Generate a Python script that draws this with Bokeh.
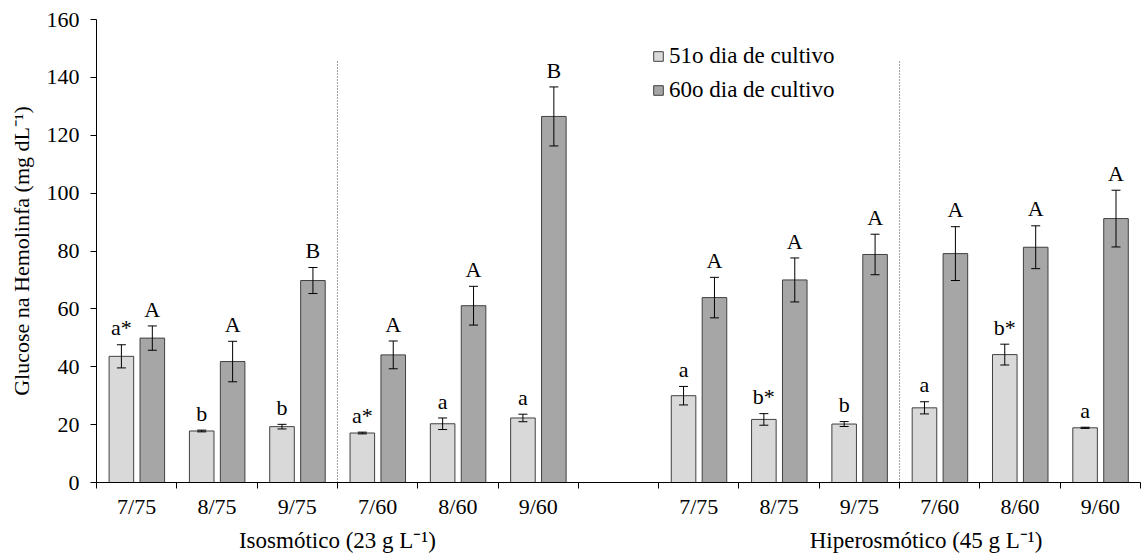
from bokeh.plotting import figure
from bokeh.models import (Range1d, FixedTicker, Whisker, TeeHead, ColumnDataSource,
                          Legend, LegendItem, LinearAxis)
from bokeh.core.properties import value
from bokeh.embed import file_html
from bokeh.resources import INLINE

# ---------------- data ----------------
categories = ["7/75", "8/75", "9/75", "7/60", "8/60", "9/60"]
group_names = ["Isosmótico (23 g L\u207b\u00b9)", "Hiperosmótico (45 g L\u207b\u00b9)"]
series_names = ["51o dia de cultivo", "60o dia de cultivo"]

iso_51 = [43.6, 17.8, 19.3, 17.1, 20.3, 22.3]
iso_51_err = [4.0, 0.3, 0.8, 0.3, 2.0, 1.3]
iso_60 = [49.9, 41.8, 69.8, 44.1, 61.1, 126.5]
iso_60_err = [4.2, 7.0, 4.5, 4.8, 6.7, 10.2]

hip_51 = [30.0, 21.8, 20.2, 25.8, 44.2, 18.9]
hip_51_err = [3.2, 2.0, 0.85, 2.1, 3.6, 0.2]
hip_60 = [63.9, 70.0, 78.8, 79.1, 81.3, 91.2]
hip_60_err = [7.0, 7.6, 7.0, 9.3, 7.4, 9.8]

iso_51_letters = ["a*", "b", "b", "a*", "a", "a"]
iso_60_letters = ["A", "A", "B", "A", "A", "B"]
hip_51_letters = ["a", "b*", "b", "a", "b*", "a"]
hip_60_letters = ["A", "A", "A", "A", "A", "A"]

y_ticks = [0, 20, 40, 60, 80, 100, 120, 140, 160]

# ---------------- layout helpers ----------------
n = len(categories)
slots = list(range(n)) + list(range(n + 1, 2 * n + 1))   # one empty slot between groups
n_slots = 2 * n + 1
centers = [s + 0.5 for s in slots]
separators = [3, n + 1 + 3]
separator_top = 146
group_x = [3, n + 1 + 3.33]
letter_gap = 1.5   # gap between error-bar cap and letter box, in data units

light_color = "#d9d9d9"
dark_color = "#a6a6a6"
edge_color = "#404040"
FONT = "Liberation Serif"
bar_w = 0.306
off_l, off_d = -0.19, 0.195


def make_src(vals, errs, letters, off):
    return ColumnDataSource(dict(
        x=[c + off for c in centers],
        top=vals,
        upper=[v + e for v, e in zip(vals, errs)],
        lower=[v - e for v, e in zip(vals, errs)],
        ly=[v + e + letter_gap for v, e in zip(vals, errs)],
        lab=letters,
    ))


src51 = make_src(iso_51 + hip_51, iso_51_err + hip_51_err, iso_51_letters + hip_51_letters, off_l)
src60 = make_src(iso_60 + hip_60, iso_60_err + hip_60_err, iso_60_letters + hip_60_letters, off_d)

p = figure(width=1143, height=555, x_range=Range1d(0, n_slots), y_range=Range1d(0, 160),
           output_backend="svg", toolbar_location=None,
           min_border_left=96, min_border_right=3, min_border_top=19, min_border_bottom=73)
p.xgrid.visible = False
p.ygrid.visible = False
p.outline_line_color = None
p.background_fill_color = "white"

r51 = p.vbar(x="x", top="top", bottom=0, width=bar_w, source=src51,
             fill_color=light_color, line_color=edge_color, line_width=1)
r60 = p.vbar(x="x", top="top", bottom=0, width=bar_w, source=src60,
             fill_color=dark_color, line_color=edge_color, line_width=1)

for src in (src51, src60):
    w = Whisker(base="x", upper="upper", lower="lower", source=src,
                line_color="black", line_width=1, level="overlay",
                upper_head=TeeHead(size=9, line_color="black", line_width=1),
                lower_head=TeeHead(size=9, line_color="black", line_width=1))
    p.add_layout(w)
    p.text(x="x", y="ly", text="lab", source=src, text_align="center",
           text_baseline="bottom", text_font=value(FONT),
           text_font_size="22px", text_color="black")

# dotted separators
p.segment(x0=separators, y0=[0] * len(separators), x1=separators,
          y1=[separator_top] * len(separators), line_color="#404040",
          line_width=1, line_dash="1 2")

# axes
xa = p.xaxis[0]
xa.ticker = FixedTicker(ticks=centers, minor_ticks=list(range(n_slots + 1)))
xa.major_label_overrides = {c: lab for c, lab in zip(centers, categories + categories)}
xa.major_tick_out = 0
xa.major_tick_in = 0
xa.minor_tick_out = 6
xa.minor_tick_in = 0
xa.minor_tick_line_color = "black"
xa.axis_line_color = "black"
xa.major_label_standoff = 5
xa.major_label_text_font = FONT
xa.major_label_text_font_size = "22px"
xa.major_label_text_color = "black"

ga = LinearAxis(ticker=FixedTicker(ticks=group_x),
                major_label_overrides={gx: g for gx, g in zip(group_x, group_names)},
                axis_line_color=None, major_tick_line_color=None, minor_tick_line_color=None,
                major_tick_out=0, major_tick_in=0, minor_tick_out=0, minor_tick_in=0,
                major_label_standoff=6, major_label_text_font=FONT,
                major_label_text_font_size="23px", major_label_text_color="black")
p.add_layout(ga, "below")

ya = p.yaxis[0]
ya.ticker = FixedTicker(ticks=y_ticks)
ya.major_tick_out = 6
ya.major_tick_in = 0
ya.minor_tick_out = 0
ya.minor_tick_in = 0
ya.axis_line_color = "black"
ya.major_tick_line_color = "black"
ya.major_label_standoff = 11
ya.major_label_text_font = FONT
ya.major_label_text_font_size = "22px"
ya.major_label_text_color = "black"
ya.axis_label = "Glucose na Hemolinfa (mg dL\u207b\u00b9)"
ya.axis_label_text_font = FONT
ya.axis_label_text_font_size = "22px"
ya.axis_label_text_font_style = "normal"
ya.axis_label_text_color = "black"
ya.axis_label_standoff = 10

legend = Legend(items=[LegendItem(label=series_names[0], renderers=[r51]),
                       LegendItem(label=series_names[1], renderers=[r60])],
                location=(556, 379), orientation="vertical",
                glyph_width=12, glyph_height=12, label_standoff=5, label_height=27,
                spacing=7, padding=0, margin=0,
                label_text_font=FONT, label_text_font_size="23px", label_text_color="black",
                border_line_alpha=0, background_fill_alpha=0)
p.add_layout(legend)

open("out.html", "w").write(file_html(p, INLINE))
